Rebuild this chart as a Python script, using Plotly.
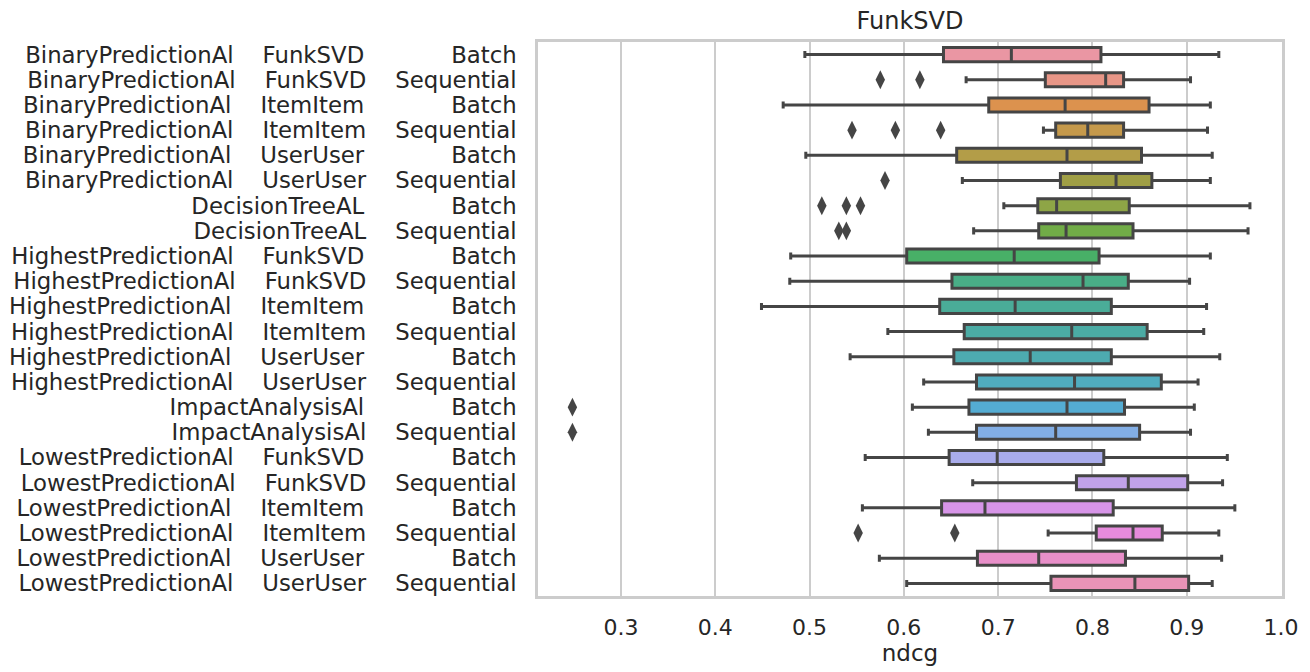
import math
import colorsys
import plotly.graph_objects as go

# ---------------- data ----------------
strategy = ["BinaryPredictionAl"] * 6 + ["DecisionTreeAL"] * 2 + ["HighestPredictionAl"] * 6 + \
           ["ImpactAnalysisAl"] * 2 + ["LowestPredictionAl"] * 6
model = ["FunkSVD", "FunkSVD", "ItemItem", "ItemItem", "UserUser", "UserUser",
         "", "",
         "FunkSVD", "FunkSVD", "ItemItem", "ItemItem", "UserUser", "UserUser",
         "", "",
         "FunkSVD", "FunkSVD", "ItemItem", "ItemItem", "UserUser", "UserUser"]
mode = ["Batch", "Sequential"] * 11

whisker_low = [0.495, 0.666, 0.472, 0.748, 0.496, 0.662, 0.706, 0.674,
               0.480, 0.479, 0.449, 0.583, 0.543, 0.621, 0.609, 0.626,
               0.559, 0.673, 0.556, 0.753, 0.574, 0.603]
q1 = [0.642, 0.750, 0.690, 0.761, 0.656, 0.766, 0.742, 0.743,
      0.603, 0.651, 0.638, 0.664, 0.653, 0.677, 0.669, 0.677,
      0.648, 0.783, 0.640, 0.804, 0.678, 0.756]
median = [0.714, 0.814, 0.771, 0.795, 0.773, 0.825, 0.762, 0.772,
          0.717, 0.790, 0.718, 0.778, 0.734, 0.781, 0.773, 0.761,
          0.699, 0.838, 0.686, 0.843, 0.743, 0.845]
q3 = [0.809, 0.833, 0.860, 0.833, 0.852, 0.863, 0.839, 0.843,
      0.807, 0.838, 0.820, 0.858, 0.820, 0.873, 0.834, 0.850,
      0.812, 0.901, 0.822, 0.874, 0.835, 0.902]
whisker_high = [0.934, 0.904, 0.925, 0.922, 0.927, 0.925, 0.967, 0.965,
                0.925, 0.903, 0.921, 0.918, 0.935, 0.912, 0.908, 0.904,
                0.943, 0.938, 0.951, 0.934, 0.937, 0.927]
outliers = [[], [0.575, 0.617], [], [0.545, 0.591, 0.639], [], [0.580],
            [0.513, 0.539, 0.554], [0.531, 0.539],
            [], [], [], [], [], [],
            [0.2485], [0.2485],
            [], [], [], [0.5515, 0.654], [], []]

x_ticks = [0.3, 0.4, 0.5, 0.6, 0.7, 0.8, 0.9, 1.0]
title_text = "FunkSVD"
x_title = "ndcg"


# ---------------- seaborn-like husl palette ----------------
_M = [[3.2406, -1.5372, -0.4986],
      [-0.9689, 1.8758, 0.0415],
      [0.0557, -0.2040, 1.0570]]
_REF_U, _REF_V = 0.19784, 0.46834


def _max_chroma(L, H):
    hrad = math.radians(H)
    sinH, cosH = math.sin(hrad), math.cos(hrad)
    sub1 = (L + 16) ** 3 / 1560896.0
    sub2 = sub1 if sub1 > 0.008856 else L / 903.3
    result = float("inf")
    for m1, m2, m3 in _M:
        top = (0.99915 * m1 + 1.05122 * m2 + 1.14460 * m3) * sub2
        rbottom = 0.86330 * m3 - 0.17266 * m2
        lbottom = 0.12949 * m3 - 0.38848 * m1
        bottom = (rbottom * sinH + lbottom * cosH) * sub2
        for t in (0.0, 1.0):
            C = L * (top - 1.05122 * t) / (bottom + 0.17266 * sinH * t)
            if 0.0 < C < result:
                result = C
    return result


def _from_linear(c):
    if c <= 0.0031308:
        return 12.92 * c
    return 1.055 * math.pow(c, 1 / 2.4) - 0.055


def husl_to_rgb(H, S, L):
    C = _max_chroma(L, H) / 100.0 * S
    hrad = math.radians(H)
    U, V = math.cos(hrad) * C, math.sin(hrad) * C
    t = (L + 16) / 116.0
    varY = t ** 3 if t ** 3 > 0.008856 else (116.0 * t - 16.0) / 903.3
    varU = U / (13.0 * L) + _REF_U
    varV = V / (13.0 * L) + _REF_V
    Y = varY
    X = 0.0 - (9.0 * Y * varU) / ((varU - 4.0) * varV - varU * varV)
    Z = (9.0 * Y - 15.0 * varV * Y - varV * X) / (3.0 * varV)
    rgb = [_from_linear(r[0] * X + r[1] * Y + r[2] * Z) for r in _M]
    return [min(max(c, 0.0), 1.0) for c in rgb]


n = len(q1)
colors = []
light_vals = []
for i in range(n):
    h = ((i / n) + 0.01) % 1 * 359
    r, g, b = husl_to_rgb(h, 0.9 * 99, 0.7 * 99)
    hh, ll, ss = colorsys.rgb_to_hls(r, g, b)
    r, g, b = colorsys.hls_to_rgb(hh, ll, ss * 0.75)
    light_vals.append(ll)
    colors.append("rgb(%d,%d,%d)" % (round(r * 255), round(g * 255), round(b * 255)))
lum = min(light_vals) * 0.6
gray = "rgb(%d,%d,%d)" % ((round(lum * 255),) * 3)

NB = "\u00a0"
labels = []
for a, b, c in zip(strategy, model, mode):
    pad = NB * (12 if c == "Batch" else 4)
    if b:
        labels.append(a + NB * 4 + b + pad + c)
    else:
        labels.append(a + pad + c)

# ---------------- figure ----------------
fig = go.Figure()
for i in range(n):
    fig.add_trace(go.Box(
        y=[i], q1=[q1[i]], median=[median[i]], q3=[q3[i]],
        lowerfence=[whisker_low[i]], upperfence=[whisker_high[i]],
        orientation="h", fillcolor=colors[i],
        line=dict(color=gray, width=3), whiskerwidth=0.5,
        boxpoints=False, showlegend=False, hoverinfo="x",
    ))

ox, oy = [], []
for i, pts in enumerate(outliers):
    for p in pts:
        ox.append(p)
        oy.append(i)
fig.add_trace(go.Scatter(
    x=ox, y=oy, mode="markers", showlegend=False,
    marker=dict(symbol="diamond-tall", size=13.5, color=gray, line=dict(width=0)),
))

font_color = "#262626"
fig.update_layout(
    width=1310, height=672,
    template="none",
    paper_bgcolor="white", plot_bgcolor="white",
    margin=dict(l=538, r=28, t=42, b=76),
    boxmode="overlay", boxgap=0.2,
    font=dict(family="DejaVu Sans", color=font_color, size=22),
    title=dict(text=title_text, x=0.5, xref="paper", xanchor="center",
               y=1 - 21 / 672, yanchor="middle", font=dict(size=24, color=font_color)),
)
fig.update_xaxes(
    range=[0.212, 1.001], tickvals=x_ticks, ticktext=["%.1f" % t for t in x_ticks],
    showgrid=True, gridcolor="#cccccc", gridwidth=2, zeroline=False,
    showline=True, linecolor="#cccccc", linewidth=2.5, mirror=True,
    ticks="", ticklabelstandoff=10, automargin=False,
    tickfont=dict(size=22, color=font_color),
    title=dict(text=x_title, font=dict(size=23, color=font_color), standoff=2),
)
fig.update_yaxes(
    range=[n - 0.5, -0.5], tickvals=list(range(n)), ticktext=labels,
    showgrid=False, zeroline=False,
    showline=True, linecolor="#cccccc", linewidth=2.5, mirror=True,
    ticks="", ticklabelstandoff=14, automargin=False,
    tickfont=dict(size=22.8, color=font_color),
)

fig.write_html("out.html", config={"displayModeBar": False},
               post_script="document.body.style.margin='0px';")
